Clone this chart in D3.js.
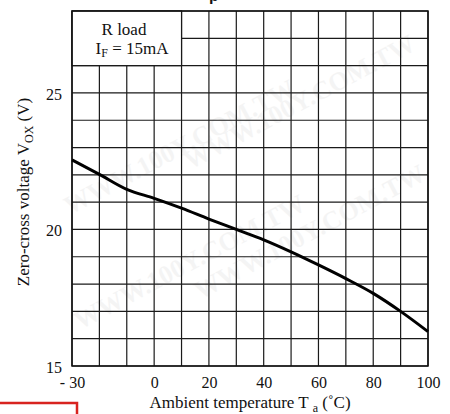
<!DOCTYPE html>
<html>
<head>
<meta charset="utf-8">
<script src="https://cdn.jsdelivr.net/npm/d3@7"></script>
<style>
  html, body { margin: 0; padding: 0; background: #fff; }
  svg text { font-family: "Liberation Serif", "Times New Roman", serif; fill: #111; }
</style>
</head>
<body>
<div id="chart"></div>
<script>
// Zero-cross voltage vs ambient temperature (R load, IF = 15mA)
const temps = [-30, -20, -10, 0, 10, 20, 30, 40, 50, 60, 70, 80, 90, 100];
const vox = [22.55, 22.02, 21.47, 21.14, 20.78, 20.38, 20.0, 19.62, 19.18, 18.7, 18.2, 17.66, 17.0, 16.26];
const xTicks = [-30, 0, 20, 40, 60, 80, 100];
const yTicks = [15, 20, 25];
const xGrid = d3.range(-30, 101, 10);
const yGrid = d3.range(15, 29, 1);

const width = 450, height = 414;
const margin = { top: 11, right: 22, bottom: 48, left: 72 };

const svg = d3.select('#chart').append('svg')
  .attr('width', width)
  .attr('height', height);

// faint watermark
const wm = svg.append('g').attr('opacity', 0.07);
[[70, 215], [80, 330], [200, 300], [190, 170]].forEach(([wx, wy]) => {
  wm.append('text')
    .attr('transform', `translate(${wx},${wy}) rotate(-28)`)
    .style('font-size', '26px')
    .style('font-weight', 'bold')
    .style('fill', '#777')
    .text('WWW.100Y.COM.TW');
});

const x = d3.scaleLinear()
  .domain([-30, 100])
  .range([margin.left, width - margin.right]);

const y = d3.scaleLinear()
  .domain([15, 28])
  .range([height - margin.bottom, margin.top]);

// grid
const grid = svg.append('g').attr('stroke', '#1a1a1a').attr('stroke-width', 1.2);
grid.selectAll('.vg').data(xGrid).enter().append('line')
  .attr('x1', d => x(d)).attr('x2', d => x(d))
  .attr('y1', y(15)).attr('y2', y(28));
grid.selectAll('.hg').data(yGrid).enter().append('line')
  .attr('x1', x(-30)).attr('x2', x(100))
  .attr('y1', d => y(d)).attr('y2', d => y(d));

// condition box (covers -30..10, 26..28)
svg.append('rect')
  .attr('x', x(-30)).attr('y', y(28))
  .attr('width', x(10) - x(-30)).attr('height', y(26) - y(28))
  .attr('fill', '#fff').attr('stroke', '#1a1a1a').attr('stroke-width', 1.2);

svg.append('text').attr('x', 124).attr('y', 35)
  .attr('text-anchor', 'middle').style('font-size', '17px').text('R load');
const ift = svg.append('text').attr('x', 132).attr('y', 54)
  .attr('text-anchor', 'middle').style('font-size', '17px');
ift.append('tspan').text('I');
ift.append('tspan').attr('dy', 3).style('font-size', '12px').text('F');
ift.append('tspan').attr('dy', -3).text(' = 15mA');

// outer frame
svg.append('rect')
  .attr('x', x(-30)).attr('y', y(28))
  .attr('width', x(100) - x(-30)).attr('height', y(15) - y(28))
  .attr('fill', 'none').attr('stroke', '#111').attr('stroke-width', 1.5);

// curve
const line = d3.line()
  .x((d, i) => x(temps[i]))
  .y(d => y(d))
  .curve(d3.curveMonotoneX);

svg.append('path')
  .datum(vox)
  .attr('fill', 'none')
  .attr('stroke', '#000')
  .attr('stroke-width', 3)
  .attr('d', line);

// axes
const xAxis = svg.append('g')
  .attr('transform', `translate(0,${y(15)})`)
  .call(d3.axisBottom(x).tickValues(xTicks).tickSize(0)
    .tickFormat(d => d < 0 ? '- ' + Math.abs(d) : d));
xAxis.select('.domain').remove();
xAxis.selectAll('text')
  .attr('y', 22).attr('dy', 0)
  .style('font-size', '16px');

const yAxis = svg.append('g')
  .attr('transform', `translate(${x(-30)},0)`)
  .call(d3.axisLeft(y).tickValues(yTicks).tickSize(0).tickPadding(10));
yAxis.select('.domain').remove();
yAxis.selectAll('text')
  .attr('dy', '0.38em')
  .style('font-size', '16px');

// axis titles
const xl = svg.append('text')
  .attr('x', 250).attr('y', 408)
  .attr('text-anchor', 'middle')
  .style('font-size', '17px');
xl.append('tspan').text('Ambient temperature T ');
xl.append('tspan').attr('dy', 4).style('font-size', '12px').text('a');
xl.append('tspan').attr('dy', -4).text(' (\u02DAC)');

const yl = svg.append('text')
  .attr('transform', 'translate(29,192) rotate(-90)')
  .attr('text-anchor', 'middle')
  .style('font-size', '17px');
yl.append('tspan').text('Zero-cross voltage V');
yl.append('tspan').attr('dy', 4).style('font-size', '12px').text('OX');
yl.append('tspan').attr('dy', -4).text(' (V)');

// cut-off title fragment at the top
svg.append('text').attr('x', 209).attr('y', 1)
  .style('font-size', '16px').style('font-weight', 'bold')
  .style('font-family', 'Liberation Sans, Arial, sans-serif').text('p');

// red frame at bottom-left
svg.append('rect')
  .attr('x', -10).attr('y', 403)
  .attr('width', 87).attr('height', 30)
  .attr('fill', 'none').attr('stroke', '#d8231f').attr('stroke-width', 2.5);
</script>
</body>
</html>
